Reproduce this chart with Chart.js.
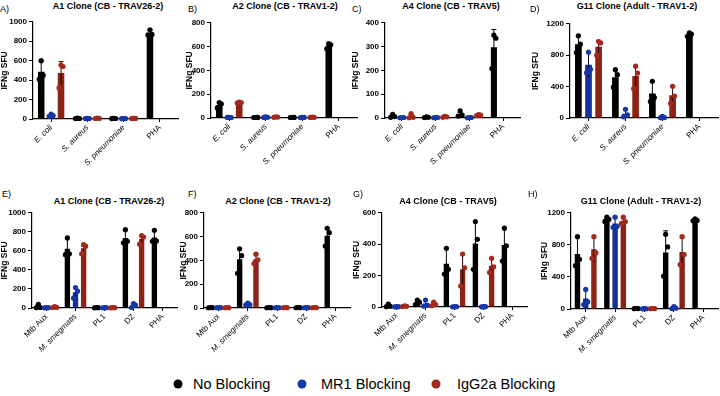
<!DOCTYPE html>
<html>
<head>
<meta charset="utf-8">
<script src="https://cdn.jsdelivr.net/npm/chart.js@4.4.1/dist/chart.umd.min.js"></script>
<style>
    body { margin: 0; background: #fff; width: 720px; height: 396px; position: relative; overflow: hidden;
           font-family: 'Liberation Sans', Arial, sans-serif; color: #000; }
    canvas { position: absolute; }
    .letter { position: absolute; font-size: 9px; transform: translateY(-50%); }
    .title { position: absolute; font-size: 9px; font-weight: bold; white-space: nowrap; transform: translate(-50%, -50%); }
    .leg { position: absolute; font-size: 14.5px; white-space: nowrap; transform: translateY(-50%); }
    .dot { position: absolute; width: 9px; height: 9px; border-radius: 50%; transform: translate(-50%, -50%); }
</style>
</head>
<body>
<script>
// Categories and series
const bacteriaCats = ['E. coli', 'S. aureus', 'S. pneumoniae', 'PHA'];
const mycoCats = ['Mtb Aux', 'M. smegmatis', 'PL1', 'DZ', 'PHA'];
const seriesNames = ['No Blocking', 'MR1 Blocking', 'IgG2a Blocking'];

// Each panel: means / SD / replicate points, one row per series (No, MR1, IgG2a)
// A) A1 clone, bacteria
const aMeans = [[487, 6, 5, 885], [38, 5, 4, null], [472, 6, 6, null]];
const aErrs = [[115, 3, 2, 30], [10, 2, 2, null], [118, 3, 3, null]];
const aPts = [
    [[600, 450, 410], [8, 5, 4], [6, 5, 4], [918, 870, 865]],
    [[50, 35, 28], [6, 5, 4], [5, 4, 3], []],
    [[555, 540, 320], [8, 6, 5], [7, 6, 5], []]
];
// B) A2 clone, bacteria
const bMeans = [[110, 5, 5, 607], [5, 7, 5, null], [130, 8, 6, null]];
const bErrs = [[18, 2, 2, 14], [2, 3, 2, null], [5, 3, 2, null]];
const bPts = [
    [[130, 118, 85], [6, 5, 4], [6, 5, 4], [625, 615, 582]],
    [[6, 4, 5], [10, 6, 5], [6, 5, 4], []],
    [[134, 130, 126], [10, 8, 6], [7, 6, 5], []]
];
// C) A4 clone, bacteria
const cMeans = [[8, 3, 12, 297], [2, 2, 2, null], [7, 5, 12, null]];
const cErrs = [[7, 2, 12, 75], [1, 1, 1, null], [8, 2, 2, null]];
const cPts = [
    [[15, 6, 3], [5, 3, 2], [30, 12, 8], [348, 335, 208]],
    [[2, 2, 1], [2, 2, 1], [2, 2, 1], []],
    [[18, 3, 1], [7, 5, 3], [14, 12, 10], []]
];
// D) G11 clone, bacteria
const dMeans = [[940, 520, 312, 1065], [678, 55, 10, null], [909, 535, 290, null]];
const dErrs = [[105, 95, 155, 12], [160, 50, 10, null], [80, 125, 110, null]];
const dPts = [
    [[1048, 940, 832], [615, 552, 393], [467, 260, 209], [1085, 1070, 1040]],
    [[838, 620, 576], [110, 40, 15], [20, 6, 4], []],
    [[973, 956, 798], [660, 572, 373], [404, 280, 186], []]
];
// E) A1 clone, mycobacteria
const eMeans = [[15, 622, 3, 736, 740], [3, 165, 3, 25, null], [8, 628, 3, 725, null]];
const eErrs = [[18, 115, 2, 87, 76], [2, 50, 2, 15, null], [5, 20, 2, 35, null]];
const ePts = [
    [[38, 5, 3], [736, 570, 560], [4, 3, 2], [823, 700, 685], [816, 705, 700]],
    [[4, 3, 2], [215, 177, 105], [4, 3, 2], [45, 30, 5], []],
    [[14, 6, 5], [667, 649, 570], [4, 3, 2], [760, 745, 670], []]
];
// F) A2 clone, mycobacteria
const fMeans = [[3, 410, 3, 3, 608], [3, 32, 3, 3, null], [3, 410, 3, 3, null]];
const fErrs = [[2, 90, 2, 2, 65], [2, 8, 2, 2, null], [2, 45, 2, 2, null]];
const fPts = [
    [[4, 3, 2], [498, 440, 292], [4, 3, 2], [4, 3, 2], [670, 633, 520]],
    [[4, 3, 2], [42, 28, 26], [4, 3, 2], [4, 3, 2], []],
    [[4, 3, 2], [452, 405, 373], [4, 3, 2], [4, 3, 2], []]
];
// G) A4 clone, mycobacteria
const gMeans = [[8, 30, 275, 405, 395], [2, 20, 2, 2, null], [5, 18, 240, 262, null]];
const gErrs = [[10, 12, 100, 140, 107], [1, 22, 1, 1, null], [4, 12, 100, 50, null]];
const gPts = [
    [[19, 4, 2], [44, 31, 15], [374, 240, 210], [544, 431, 240], [502, 390, 293]],
    [[2, 2, 1], [44, 10, 6], [2, 2, 1], [2, 2, 1], []],
    [[8, 4, 3], [31, 15, 8], [337, 250, 133], [310, 256, 220], []]
];
// H) G11 clone, mycobacteria
const hMeans = [[687, 1112, 5, 705, 1110], [130, 1065, 3, 15, null], [745, 1100, 5, 712, null]];
const hErrs = [[210, 25, 3, 270, 10], [110, 80, 2, 12, null], [155, 42, 3, 190, null]];
const hPts = [
    [[902, 620, 540], [1146, 1117, 1092], [6, 5, 4], [931, 774, 410], [1125, 1105, 1100]],
    [[244, 90, 56], [1146, 1030, 1019], [4, 3, 2], [30, 10, 5], []],
    [[902, 700, 633], [1146, 1090, 1064], [6, 5, 4], [902, 680, 554], []]
];

const barColors = ['#000000', '#13309b', '#8d2216'];
const dotColors = ['#000000', '#1637a8', '#a2291c'];
const errColors = ['#000000', '#0a0a2a', '#1e0705'];
const FONT = "'Liberation Sans', Arial, sans-serif";
Chart.defaults.font.family = FONT;
Chart.defaults.color = '#000';

// Panel placement (pixel boxes of the plot areas)
const panels = [
    { letter: 'A)', lx: 0, ly: 8.5, title: 'A1 Clone (CB - TRAV26-2)', tx: 108, ty: 6, cats: bacteriaCats,
      means: aMeans, errs: aErrs, pts: aPts, max: 1000, step: 200, axisX: 33, ytX: 5, top: 21, bottom: 119, right: 178 },
    { letter: 'B)', lx: 188, ly: 8.5, title: 'A2 Clone (CB - TRAV1-2)', tx: 285, ty: 6, cats: bacteriaCats,
      means: bMeans, errs: bErrs, pts: bPts, max: 800, step: 200, axisX: 211, ytX: 190, top: 22, bottom: 118, right: 357 },
    { letter: 'C)', lx: 352, ly: 8.5, title: 'A4 Clone (CB - TRAV5)', tx: 451, ty: 6, cats: bacteriaCats,
      means: cMeans, errs: cErrs, pts: cPts, max: 400, step: 100, axisX: 385, ytX: 356, top: 22, bottom: 118, right: 520 },
    { letter: 'D)', lx: 530, ly: 8.5, title: 'G11 Clone (Adult - TRAV1-2)', tx: 637, ty: 6, cats: bacteriaCats,
      means: dMeans, errs: dErrs, pts: dPts, max: 1200, step: 400, axisX: 570, ytX: 536, top: 23, bottom: 118, right: 718 },
    { letter: 'E)', lx: 2, ly: 193.5, title: 'A1 Clone (CB - TRAV26-2)', tx: 109, ty: 201, cats: mycoCats,
      means: eMeans, errs: eErrs, pts: ePts, max: 1000, step: 200, axisX: 32, ytX: 5, top: 212, bottom: 308, right: 177 },
    { letter: 'F)', lx: 188, ly: 193.5, title: 'A2 Clone (CB - TRAV1-2)', tx: 278, ty: 201, cats: mycoCats,
      means: fMeans, errs: fErrs, pts: fPts, max: 800, step: 200, axisX: 204, ytX: 184, top: 212, bottom: 308, right: 350 },
    { letter: 'G)', lx: 353, ly: 193.5, title: 'A4 Clone (CB - TRAV5)', tx: 448, ty: 201, cats: mycoCats,
      means: gMeans, errs: gErrs, pts: gPts, max: 600, step: 200, axisX: 382, ytX: 357, top: 212, bottom: 307, right: 527 },
    { letter: 'H)', lx: 528, ly: 193.5, title: 'G11 Clone (Adult - TRAV1-2)', tx: 641, ty: 201, cats: mycoCats,
      means: hMeans, errs: hErrs, pts: hPts, max: 1200, step: 400, axisX: 571, ytX: 545, top: 212, bottom: 309, right: 718 }
];

const italicCats = ['E. coli', 'S. aureus', 'S. pneumoniae', 'M. smegmatis'];
const jitter = [0, 2, -2];

// error bars (mean +/- SD) and replicate dots
const replicatePlugin = {
    id: 'replicates',
    afterDatasetsDraw(chart) {
        const p = chart.options.plugins.replicates;
        const ctx = chart.ctx;
        const y = chart.scales.y;
        ctx.save();
        chart.data.datasets.forEach((ds, i) => {
            const meta = chart.getDatasetMeta(i);
            meta.data.forEach((bar, j) => {
                const m = ds.data[j];
                if (m === null) return;
                const e = p.errs[i][j];
                const yt = y.getPixelForValue(m + e);
                const yb = y.getPixelForValue(Math.max(0, m - e));
                ctx.strokeStyle = errColors[i];
                ctx.lineWidth = 1;
                ctx.beginPath();
                ctx.moveTo(bar.x, yb);
                ctx.lineTo(bar.x, yt);
                ctx.moveTo(bar.x - 2.5, yt);
                ctx.lineTo(bar.x + 2.5, yt);
                ctx.stroke();
                ctx.fillStyle = dotColors[i];
                p.pts[i][j].forEach((v, k) => {
                    ctx.beginPath();
                    ctx.arc(bar.x + jitter[k % 3], y.getPixelForValue(v), 2.6, 0, Math.PI * 2);
                    ctx.fill();
                });
            });
        });
        ctx.restore();
    }
};

function addDiv(cls, text, x, y) {
    const d = document.createElement('div');
    d.className = cls;
    d.textContent = text;
    d.style.left = x + 'px';
    d.style.top = y + 'px';
    document.body.appendChild(d);
    return d;
}

const padTop = 6, xH = 62;
panels.forEach(p => {
    addDiv('letter', p.letter, p.lx, p.ly);
    addDiv('title', p.title, p.tx, p.ty);

    const left = p.ytX - 5;
    const yW = p.axisX - left;
    const w = p.right + 2 - left;
    const h = padTop + (p.bottom - p.top) + xH;
    const cv = document.createElement('canvas');
    cv.style.left = left + 'px';
    cv.style.top = (p.top - padTop) + 'px';
    cv.style.width = w + 'px';
    cv.style.height = h + 'px';
    cv.width = w;
    cv.height = h;
    document.body.appendChild(cv);

    const nCats = p.cats.length;
    new Chart(cv, {
        type: 'bar',
        data: {
            labels: p.cats,
            datasets: p.means.map((row, i) => ({
                label: seriesNames[i],
                data: row,
                backgroundColor: barColors[i],
                borderWidth: 0,
                categoryPercentage: nCats === 4 ? 0.82 : 0.84,
                barPercentage: 0.66
            }))
        },
        options: {
            responsive: false,
            animation: false,
            devicePixelRatio: 1,
            layout: { padding: { top: padTop, right: 2, left: 0, bottom: 0 } },
            plugins: {
                legend: { display: false },
                tooltip: { enabled: false },
                replicates: { errs: p.errs, pts: p.pts }
            },
            scales: {
                x: {
                    offset: true,
                    grid: { display: true, drawOnChartArea: false, drawTicks: true, tickLength: 3, color: '#000', offset: false },
                    border: { display: true, color: '#000', width: 1.2 },
                    ticks: {
                        autoSkip: false, minRotation: 45, maxRotation: 45, padding: 1,
                        font: ctx => ({ size: 8, family: FONT,
                            style: italicCats.includes(p.cats[ctx.index]) ? 'italic' : 'normal' })
                    },
                    afterFit: s => { s.height = xH; }
                },
                y: {
                    min: 0, max: p.max,
                    grid: { display: true, drawOnChartArea: false, drawTicks: true, tickLength: 4, color: '#000' },
                    border: { display: true, color: '#000', width: 1.2 },
                    ticks: { stepSize: p.step, padding: 2, font: { size: 8, weight: 'bold' },
                             callback: v => String(v) },
                    title: { display: true, text: 'IFNg SFU', padding: { top: 0, bottom: 0 },
                             font: { size: 8.5, weight: 'bold' } },
                    afterFit: s => { s.width = yW; }
                }
            }
        },
        plugins: [replicatePlugin]
    });
});

// Legend
const legendItems = [
    { x: 178, tx: 193 },
    { x: 302, tx: 321 },
    { x: 436, tx: 457 }
];
legendItems.forEach((it, i) => {
    const d = addDiv('dot', '', it.x, 384);
    d.style.background = barColors[i] === '#000000' ? '#000' : dotColors[i];
    addDiv('leg', seriesNames[i], it.tx, 384);
});
</script>
</body>
</html>
